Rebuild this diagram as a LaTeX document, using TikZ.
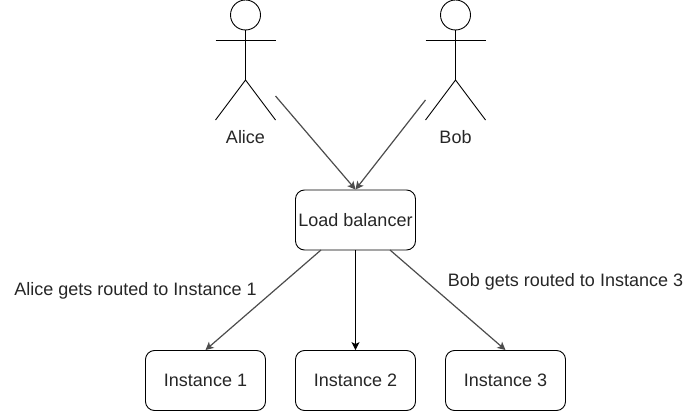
\documentclass[tikz,border=0pt]{standalone}
\usepackage{fontspec}
\setmainfont{Liberation Sans}
\usetikzlibrary{arrows.meta}
\tikzset{
  x=1pt,y=-1pt,
  box/.style={draw=black,line width=0.9pt,rounded corners=9pt,minimum width=120pt,minimum height=60pt,inner sep=0pt,align=center,font=\fontsize{18}{21}\selectfont,text=black!85},
  lbl/.style={inner sep=0pt,font=\fontsize{18}{21}\selectfont,text=black!85},
  head/.style={draw=black,line width=0.9pt,circle,minimum size=30pt,inner sep=0pt},
  limb/.style={draw=black,line width=0.9pt},
  conn/.style={draw=black!70,line width=1.2pt,-{Stealth[length=8pt,width=8pt,inset=2pt]}},
}
\begin{document}
\begin{tikzpicture}
\useasboundingbox (0,0) rectangle (695,411);
% actors
\node[head] (alicehead) at (245.5,15) {};
\node[head] (bobhead) at (455.5,15) {};
\coordinate (alicehip) at (245.5,80);
\coordinate (bobhip) at (455.5,80);
\draw[limb] (alicehead.south) -- (alicehip);
\draw[limb] (bobhead.south) -- (bobhip);
\draw[limb] (215.5,40) -- (275.5,40);
\draw[limb] (425.5,40) -- (485.5,40);
\draw[limb] (215.5,120) -- (alicehip) -- (275.5,120);
\draw[limb] (425.5,120) -- (bobhip) -- (485.5,120);
\node[lbl] (alicelabel) at (245.5,137) {Alice};
\node[lbl] (boblabel) at (455.5,137) {Bob};
% boxes
\node[box] (lb) at (355.5,220) {Load balancer};
\node[box] (inst1) at (205.5,380.5) {Instance 1};
\node[box] (inst2) at (355.5,380.5) {Instance 2};
\node[box] (inst3) at (505.5,380.5) {Instance 3};
% connectors
\coordinate (alicefree) at (275.5,96);
\coordinate (bobfree) at (425.5,100);
\coordinate (lbleft) at (321,250);
\coordinate (lbright) at (390,250);
\draw[conn] (alicefree) -- (lb.north);
\draw[conn] (bobfree) -- (lb.north);
\draw[conn] (lbleft) -- (inst1.north);
\draw[conn,draw=black,line width=0.9pt] (lb.south) -- (inst2.north);
\draw[conn] (lbright) -- (inst3.north);
% route labels
\node[lbl] (routealice) at (135.5,291) {Alice gets routed to Instance 1};
\node[lbl] (routebob) at (565.5,282) {Bob gets routed to Instance 3};
\end{tikzpicture}
\end{document}
